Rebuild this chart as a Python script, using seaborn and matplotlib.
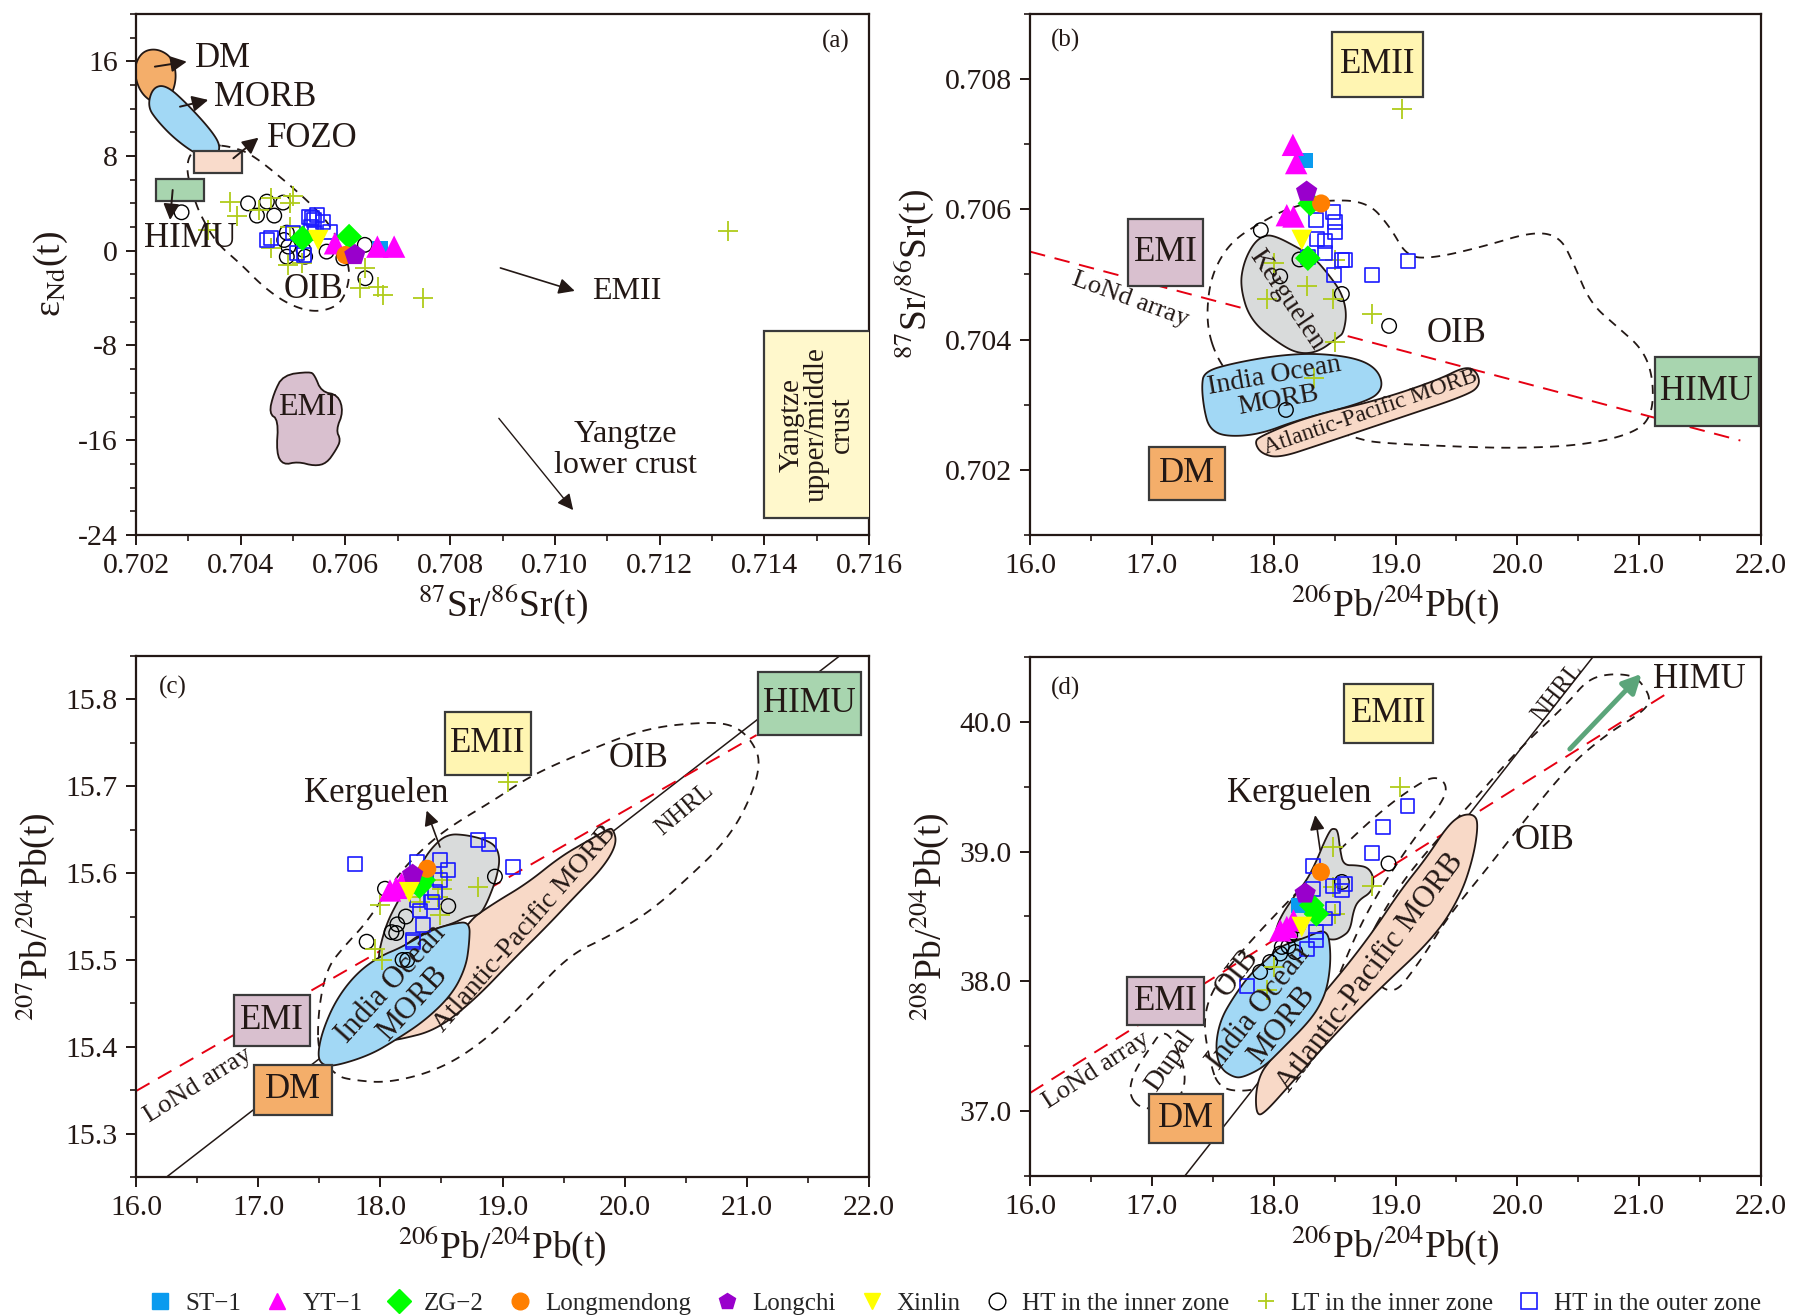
import numpy as np
import matplotlib
matplotlib.use('Agg')
import matplotlib.pyplot as plt
import seaborn as sns
from matplotlib.patches import Polygon, Rectangle
from matplotlib.lines import Line2D
from matplotlib.ticker import MultipleLocator, FormatStrFormatter

sns.set_theme(style='ticks')
plt.rcParams['font.family'] = ['Liberation Serif', 'DejaVu Serif']
plt.rcParams['mathtext.fontset'] = 'stix'
plt.rcParams['axes.unicode_minus'] = False

# ---------------- sample data ----------------
# (a) 87Sr/86Sr(t) vs eNd(t)
ST1_A_X = [0.70666]; ST1_A_Y = [0.2]
YT1_A_X = [0.70580, 0.70661, 0.70693]; YT1_A_Y = [0.63, 0.35, 0.35]
ZG2_A_X = [0.70518, 0.70607]; ZG2_A_Y = [1.06, 1.2]
LMD_A_X = [0.70600]; LMD_A_Y = [-0.36]
LC_A_X = [0.70618]; LC_A_Y = [-0.36]
XL_A_X = [0.70548]; XL_A_Y = [0.9]
HTI_A_X = [0.70414, 0.70450, 0.70481, 0.70431, 0.70464, 0.70287, 0.70488, 0.70483,
           0.70491, 0.70488, 0.70520, 0.70523, 0.70564, 0.70596, 0.70637, 0.70638]
HTI_A_Y = [4.0, 4.15, 4.07, 2.97, 2.97, 3.25, 1.53, 0.91, 0.35, -0.5, 0.07, -0.5,
           -0.07, -0.63, 0.5, -2.32]
LTI_A_X = [0.70380, 0.70393, 0.70435, 0.70457, 0.70500, 0.70494, 0.70338, 0.70457,
           0.70491, 0.70517, 0.70637, 0.70628, 0.70663, 0.70672, 0.70748, 0.70494, 0.71331]
LTI_A_Y = [4.15, 2.95, 3.46, 4.44, 4.6, 4.0, 1.76, 0.21, -1.2, -1.05, -1.46, -3.17,
           -3.03, -3.74, -4.0, 2.03, 1.67]
HTO_A_X = [0.70530, 0.70536, 0.70545, 0.70557, 0.70534, 0.70457, 0.70450, 0.70500,
           0.70541, 0.70570, 0.70507, 0.70520, 0.70540]
HTO_A_Y = [2.85, 2.74, 2.99, 2.43, 2.0, 1.05, 0.9, 1.5, 1.5, 1.55, -0.2, -0.34, 2.6]

# (b) 206Pb/204Pb vs 87Sr/86Sr
ST1_B_X = [18.258]; ST1_B_Y = [0.70675]
YT1_B_X = [18.157, 18.184, 18.107, 18.162]; YT1_B_Y = [0.70699, 0.70671, 0.70591, 0.70589]
ZG2_B_X = [18.30, 18.28]; ZG2_B_Y = [0.70609, 0.70525]
LMD_B_X = [18.389]; LMD_B_Y = [0.70609]
LC_B_X = [18.27]; LC_B_Y = [0.70627]
XL_B_X = [18.23]; XL_B_Y = [0.70553]
HTI_B_X = [17.894, 18.211, 18.559, 18.947, 18.053, 18.10]
HTI_B_Y = [0.70568, 0.70523, 0.70470, 0.70421, 0.70497, 0.70292]
LTI_B_X = [19.052, 17.998, 17.943, 18.272, 18.490, 18.504, 18.805, 18.504, 18.33]
LTI_B_Y = [0.70754, 0.70517, 0.70463, 0.70482, 0.70463, 0.70522, 0.70439, 0.70397, 0.70341]
HTO_B_X = [18.49, 18.348, 18.504, 18.504, 18.353, 18.422, 18.422, 18.28, 18.559,
           18.586, 18.496, 18.81, 19.10]
HTO_B_Y = [0.70596, 0.70584, 0.70580, 0.70565, 0.70554, 0.70552, 0.70533, 0.70527,
           0.70522, 0.70522, 0.70499, 0.70499, 0.70520]

# (c) 206Pb/204Pb vs 207Pb/204Pb
ST1_C_X = [18.30]; ST1_C_Y = [15.585]
YT1_C_X = [18.079, 18.174, 18.13]; YT1_C_Y = [15.580, 15.588, 15.583]
ZG2_C_X = [18.351, 18.32]; ZG2_C_Y = [15.592, 15.585]
LMD_C_X = [18.384]; LMD_C_Y = [15.605]
LC_C_X = [18.264]; LC_C_Y = [15.598]
XL_C_X = [18.237]; XL_C_Y = [15.578]
HTI_C_X = [18.038, 18.556, 18.209, 18.139, 18.092, 18.13, 17.888, 18.938, 18.182, 18.22]
HTI_C_Y = [15.582, 15.562, 15.550, 15.541, 15.532, 15.531, 15.521, 15.596, 15.500, 15.500]
LTI_C_X = [19.047, 17.997, 18.324, 18.502, 18.502, 18.801, 18.488, 17.956, 18.010, 18.47, 18.24]
LTI_C_Y = [15.705, 15.563, 15.567, 15.592, 15.582, 15.584, 15.552, 15.513, 15.500, 15.573, 15.572]
HTO_C_X = [17.792, 18.801, 18.891, 19.088, 18.297, 18.488, 18.556, 18.49, 18.447, 18.420,
           18.324, 18.351, 18.270, 18.297, 18.264]
HTO_C_Y = [15.611, 15.638, 15.633, 15.607, 15.613, 15.615, 15.604, 15.592, 15.578, 15.567,
           15.557, 15.540, 15.523, 15.569, 15.521]

# (d) 206Pb/204Pb vs 208Pb/204Pb
ST1_D_X = [18.203]; ST1_D_Y = [38.586]
YT1_D_X = [18.107, 18.162, 18.053]; YT1_D_Y = [38.419, 38.47, 38.393]
ZG2_D_X = [18.312, 18.35]; ZG2_D_Y = [38.586, 38.52]
LMD_D_X = [18.387]; LMD_D_Y = [38.843]
LC_D_X = [18.258]; LC_D_Y = [38.677]
XL_D_X = [18.23]; XL_D_Y = [38.419]
HTI_D_X = [18.559, 18.942, 18.203, 18.135, 18.066, 18.12, 18.053, 18.176, 17.970, 17.888]
HTI_D_Y = [38.766, 38.908, 38.432, 38.355, 38.265, 38.27, 38.214, 38.226, 38.149, 38.072]
LTI_D_X = [19.038, 18.490, 18.490, 18.805, 18.504, 17.998, 17.943]
LTI_D_Y = [39.499, 39.036, 38.727, 38.733, 38.522, 38.110, 37.931]
HTO_D_X = [19.098, 18.895, 18.805, 18.321, 18.586, 18.485, 18.56, 18.32, 18.49, 18.422,
           18.348, 18.348, 18.272, 17.784]
HTO_D_Y = [39.350, 39.191, 38.990, 38.887, 38.748, 38.733, 38.70, 38.715, 38.561, 38.484,
           38.380, 38.316, 38.252, 37.961]

# ---------------- reference fields (outlines) ----------------
DM_A_X = [0.70195, 0.70210, 0.70240, 0.70270, 0.70278, 0.70266, 0.70240, 0.70208]
DM_A_Y = [15.3, 16.8, 17.1, 16.3, 14.6, 12.9, 12.3, 13.3]
MORB_A_X = [0.70222, 0.70232, 0.70258, 0.70300, 0.70345, 0.70362, 0.70352, 0.70320, 0.70275, 0.70240]
MORB_A_Y = [12.2, 13.8, 14.0, 12.3, 10.1, 8.8, 7.9, 8.0, 9.4, 11.0]
EMI_A_X = [0.70481, 0.70532, 0.70541, 0.70554, 0.70586, 0.70596, 0.70582, 0.70591, 0.70582,
           0.70564, 0.70541, 0.70509, 0.70481, 0.70468, 0.70472, 0.70454, 0.70463]
EMI_A_Y = [-10.49, -10.21, -10.49, -11.90, -12.18, -13.59, -15.14, -15.98, -16.82, -17.95,
           -18.18, -17.81, -18.09, -17.10, -14.29, -13.73, -12.04]
OIB_A_X = [0.70348, 0.70380, 0.70418, 0.70475, 0.70533, 0.70571, 0.70602, 0.70609, 0.70596,
           0.70571, 0.70533, 0.70488, 0.70443, 0.70399, 0.70354, 0.70325, 0.70313, 0.70297,
           0.70300, 0.70316]
OIB_A_Y = [8.94, 8.80, 8.23, 6.26, 4.01, 2.18, -0.50, -2.19, -4.16, -4.95, -5.15, -4.45,
           -3.04, -1.07, 0.62, 2.87, 4.14, 6.53, 7.94, 8.65]
FOZO_A = (0.70311, 0.70403, 6.60, 8.43)
HIMU_A = (0.70239, 0.70330, 4.23, 6.06)
YUMC_A = (0.71400, 0.71620, -22.6, -6.8)

KER_B_X = [17.929, 18.025, 18.189, 18.326, 18.463, 18.559, 18.60, 18.572, 18.531, 18.368,
           18.204, 18.041, 17.806, 17.724, 17.751, 17.833]
KER_B_Y = [0.70561, 0.70558, 0.70542, 0.70527, 0.70497, 0.70471, 0.70440, 0.70410, 0.70404,
           0.70381, 0.70378, 0.70394, 0.70430, 0.70481, 0.70517, 0.70548]
IOM_B_X = [17.429, 17.673, 18.041, 18.368, 18.695, 18.858, 18.899, 18.777, 18.204, 17.878,
           17.592, 17.47, 17.429, 17.408]
IOM_B_Y = [0.70351, 0.70364, 0.70376, 0.70379, 0.70371, 0.70353, 0.70325, 0.70305, 0.70277,
           0.70254, 0.70251, 0.70264, 0.70292, 0.70328]
APM_B_X = [17.878, 18.286, 18.858, 19.348, 19.573, 19.667, 19.695, 19.593, 19.021, 18.368,
           18.041, 17.898, 17.845]
APM_B_Y = [0.70251, 0.70282, 0.70307, 0.70338, 0.70359, 0.70351, 0.70330, 0.70315, 0.70279,
           0.70238, 0.70218, 0.70225, 0.70241]
OIB_B_X = [17.533, 17.451, 17.464, 17.533, 17.669, 17.888, 18.107, 18.381, 18.764, 18.956,
           19.093, 19.311, 19.722, 20.132, 20.351, 20.461, 20.598, 20.817, 21.035, 21.117,
           21.104, 20.953, 20.543, 19.996, 19.448, 18.901, 18.709, 18.2, 17.7]
OIB_B_Y = [0.70371, 0.70420, 0.70476, 0.70517, 0.70553, 0.70579, 0.70601, 0.70614, 0.70613,
           0.70573, 0.70527, 0.70525, 0.70543, 0.70566, 0.70558, 0.70517, 0.70456, 0.70420,
           0.70384, 0.70338, 0.70282, 0.70256, 0.70238, 0.70233, 0.70236, 0.70241, 0.70246,
           0.7028, 0.7033]
EMI_B = (16.807, 17.423, 0.70482, 0.70585)
EMII_B = (18.477, 19.224, 0.70772, 0.70873)
DM_B = (16.98, 17.60, 0.70154, 0.70235)
HIMU_B = (21.13, 21.98, 0.70267, 0.70374)
LOND_B_X = [16.0, 21.83]; LOND_B_Y = [0.70535, 0.70245]

KER_C_X = [18.406, 18.542, 18.706, 18.870, 18.952, 18.979, 18.952, 18.924, 18.870, 18.815,
           18.706, 18.597, 18.406, 18.297, 18.188, 18.038, 17.983, 17.997, 18.052, 18.133,
           18.229, 18.324]
KER_C_Y = [15.627, 15.645, 15.644, 15.638, 15.630, 15.615, 15.596, 15.584, 15.565, 15.552,
           15.550, 15.542, 15.534, 15.527, 15.515, 15.504, 15.498, 15.515, 15.542, 15.565,
           15.588, 15.607]
IOM_C_X = [18.733, 18.728, 18.700, 18.591, 18.373, 18.128, 17.909, 17.610, 17.514, 17.487,
           17.528, 17.637, 17.800, 17.991, 18.182, 18.406, 18.597]
IOM_C_Y = [15.544, 15.519, 15.492, 15.461, 15.431, 15.408, 15.390, 15.377, 15.380, 15.392,
           15.419, 15.454, 15.484, 15.504, 15.515, 15.534, 15.542]
APM_C_X = [19.906, 19.937, 19.827, 19.592, 19.358, 19.084, 18.770, 18.457, 18.143, 18.085,
           18.30, 18.691, 18.926, 19.200, 19.474, 19.709, 19.867]
APM_C_Y = [15.651, 15.634, 15.607, 15.573, 15.538, 15.500, 15.454, 15.419, 15.408, 15.408,
           15.442, 15.542, 15.565, 15.588, 15.619, 15.638, 15.651]
OIB_C_X = [17.49, 17.49, 17.56, 17.70, 17.90, 18.15, 18.40, 18.61, 18.93, 19.24, 19.71,
           20.18, 20.65, 20.89, 21.04, 21.12, 21.00, 20.81, 20.53, 20.22, 19.87, 19.55,
           19.22, 18.89, 18.51, 18.07, 17.75, 17.64]
OIB_C_Y = [15.39, 15.44, 15.49, 15.515, 15.545, 15.60, 15.635, 15.657, 15.684, 15.713, 15.742,
           15.767, 15.774, 15.771, 15.753, 15.726, 15.676, 15.634, 15.596, 15.557, 15.527,
           15.506, 15.457, 15.411, 15.375, 15.358, 15.362, 15.367]
EMI_C = (16.805, 17.424, 15.401, 15.460)
DM_C = (16.968, 17.604, 15.322, 15.379)
EMII_C = (18.527, 19.232, 15.713, 15.785)
HIMU_C = (21.088, 21.934, 15.759, 15.832)
NHRL_C_X = [16.25, 21.85]; NHRL_C_Y = [15.25, 15.86]
LOND_C_X = [16.0, 21.08]; LOND_C_Y = [15.349, 15.759]

KER_D_X = [18.490, 18.526, 18.545, 18.572, 18.682, 18.778, 18.824, 18.805, 18.696, 18.655,
           18.627, 18.559, 18.490, 18.381, 18.135, 17.998, 18.039, 18.162, 18.272, 18.354,
           18.409, 18.463]
KER_D_Y = [39.178, 39.165, 39.011, 38.895, 38.895, 38.877, 38.792, 38.689, 38.625, 38.548,
           38.393, 38.342, 38.316, 38.342, 38.316, 38.316, 38.471, 38.650, 38.779, 38.934,
           39.062, 39.165]
IOM_D_X = [18.44, 18.47, 18.45, 18.40, 18.30, 18.08, 17.92, 17.75, 17.67, 17.56, 17.52,
           17.56, 17.67, 17.81, 17.97, 18.05, 18.27]
IOM_D_Y = [38.41, 38.21, 38.00, 37.85, 37.70, 37.49, 37.34, 37.26, 37.26, 37.33, 37.49,
           37.70, 37.88, 38.06, 38.19, 38.27, 38.34]
APM_D_X = [17.86, 17.85, 17.89, 17.98, 18.20, 18.55, 18.82, 19.04, 19.26, 19.42, 19.53,
           19.64, 19.68, 19.64, 19.53, 19.31, 18.82, 18.46, 18.14, 17.92]
APM_D_Y = [36.97, 37.13, 37.29, 37.40, 37.68, 38.06, 38.39, 38.70, 38.96, 39.19, 39.28,
           39.29, 39.22, 38.96, 38.65, 38.33, 37.90, 37.55, 37.21, 36.98]
OIB1_D_X = [17.55, 17.47, 17.42, 17.50, 17.75, 18.10, 18.50, 18.90, 19.20, 19.33, 19.42,
            19.40, 19.15, 18.90, 18.72, 18.58, 18.45, 18.25, 18.00, 17.80]
OIB1_D_Y = [37.17, 37.40, 37.70, 37.95, 38.25, 38.60, 38.98, 39.33, 39.53, 39.58, 39.52,
            39.40, 39.10, 38.75, 38.45, 38.15, 37.85, 37.45, 37.22, 37.15]
OIB2_D_X = [18.70, 19.00, 19.30, 19.60, 20.00, 20.41, 20.57, 20.74, 20.94, 21.02, 21.10,
            21.02, 20.74, 20.41, 20.00, 19.76, 19.43, 19.20, 18.95]
OIB2_D_Y = [38.20, 38.70, 39.05, 39.35, 39.78, 40.14, 40.32, 40.37, 40.36, 40.30, 40.17,
            40.07, 39.91, 39.65, 39.17, 38.88, 38.50, 38.15, 37.85]
DUPAL_D_X = [16.90, 16.81, 16.85, 16.98, 17.08, 17.18, 17.28, 17.25, 17.10]
DUPAL_D_Y = [37.02, 37.13, 37.30, 37.48, 37.62, 37.55, 37.30, 37.12, 37.02]
EMI_D = (16.794, 17.429, 37.660, 38.033)
DM_D = (16.98, 17.58, 36.758, 37.134)
EMII_D = (18.58, 19.31, 39.84, 40.29)
NHRL_D_X = [17.27, 20.62]; NHRL_D_Y = [36.50, 40.50]
LOND_D_X = [16.0, 21.23]; LOND_D_Y = [37.14, 40.22]

# ---------------- styles ----------------
INK = '#231815'
C_DM, C_MORB, C_FOZO, C_HIMU = '#F4AE6A', '#A2D8F5', '#F9DBCB', '#A8D5AF'
C_EMI, C_EMII, C_KER, C_APM, C_YUMC = '#D9C0CF', '#FFF5B2', '#D9DBDB', '#F8D9C7', '#FFF8CC'

NAMES = ['ST\u22121', 'YT\u22121', 'ZG\u22122', 'Longmendong', 'Longchi', 'Xinlin',
         'HT in the inner zone', 'LT in the inner zone', 'HT in the outer zone']
STYLE = {
    'ST\u22121': dict(marker='s', color='#0A9BEF', s=120, edgecolor='none'),
    'YT\u22121': dict(marker='^', color='#FF00FF', s=260, edgecolor='none'),
    'ZG\u22122': dict(marker='D', color='#00FF00', s=170, edgecolor='none'),
    'Longmendong': dict(marker='o', color='#FF7F00', s=170, edgecolor='none'),
    'Longchi': dict(marker='p', color='#9900CC', s=260, edgecolor='none'),
    'Xinlin': dict(marker='v', color='#FFFF00', s=220, edgecolor='none'),
    'HT in the inner zone': dict(marker='o', facecolor='none', edgecolor='black', s=110, linewidth=1.0),
    'LT in the inner zone': dict(marker='+', color='#B0CC1A', s=200, linewidth=1.3),
    'HT in the outer zone': dict(marker='s', facecolor='none', edgecolor='#1A1AFF', s=100, linewidth=1.2),
}
DRAW_ORDER = [6, 7, 8, 0, 2, 1, 3, 4, 5]


def smooth(xs, ys, n=4):
    pts = np.column_stack([xs, ys]).astype(float)
    for _ in range(n):
        nxt = np.roll(pts, -1, axis=0)
        new = np.empty((2 * len(pts), 2))
        new[0::2] = 0.75 * pts + 0.25 * nxt
        new[1::2] = 0.25 * pts + 0.75 * nxt
        pts = new
    return pts


def field(ax, xs, ys, fc, z=2, n=4):
    ax.add_patch(Polygon(smooth(xs, ys, n), closed=True, fc=fc, ec=INK, lw=1.3, zorder=z))


def dashed(ax, xs, ys, n=4):
    ax.add_patch(Polygon(smooth(xs, ys, n), closed=True, fill=False, ec=INK, lw=1.3,
                         ls=(0, (5, 4)), zorder=1))


def box(ax, b, fc, label, fs=25, **kw):
    x0, x1, y0, y1 = b
    ax.add_patch(Rectangle((x0, y0), x1 - x0, y1 - y0, fc=fc, ec='#3a3a3a', lw=1.6, zorder=3))
    if label:
        ax.text((x0 + x1) / 2, (y0 + y1) / 2, label, ha='center', va='center', fontsize=fs,
                color=INK, zorder=7, **kw)


def arrow(ax, start, end, color=INK, lw=1.4, ms=24):
    ax.annotate('', xy=end, xytext=start, zorder=7,
                arrowprops=dict(arrowstyle='-|>', color=color, lw=lw, mutation_scale=ms,
                                shrinkA=0, shrinkB=0))


def label(ax, x, y, s, fs=24, rot=0, ha='center'):
    ax.text(x, y, s, fontsize=fs, rotation=rot, ha=ha, va='center', color=INK,
            rotation_mode='anchor', zorder=7)


def samples(ax, groups):
    for i in DRAW_ORDER:
        xs, ys = groups[i]
        z = 4 if i >= 6 else 5
        sns.scatterplot(x=xs, y=ys, ax=ax, legend=False, zorder=z, **STYLE[NAMES[i]])


def setup(ax, xlim, ylim, xt, yt, xfmt, yfmt, xlabel, ylabel, tag, tagpos):
    ax.set_xlim(*xlim)
    ax.set_ylim(*ylim)
    ax.xaxis.set_major_locator(MultipleLocator(xt[0]))
    ax.xaxis.set_minor_locator(MultipleLocator(xt[1]))
    ax.yaxis.set_major_locator(MultipleLocator(yt[0]))
    ax.yaxis.set_minor_locator(MultipleLocator(yt[1]))
    ax.xaxis.set_major_formatter(FormatStrFormatter(xfmt))
    ax.yaxis.set_major_formatter(FormatStrFormatter(yfmt))
    ax.tick_params(which='major', direction='out', length=7, width=1.4, labelsize=21.5,
                   colors=INK, pad=6)
    ax.tick_params(which='minor', direction='out', length=4, width=1.2, colors=INK)
    for sp in ax.spines.values():
        sp.set_linewidth(1.6)
        sp.set_color(INK)
    ax.set_xlabel(xlabel, fontsize=27, color=INK, labelpad=2)
    ax.set_ylabel(ylabel, fontsize=27, color=INK, labelpad=6)
    ax.text(tagpos[0], tagpos[1], tag, transform=ax.transAxes, fontsize=18, ha='center',
            va='center', color=INK, zorder=8)


fig = plt.figure(figsize=(18.04, 13.16), dpi=100)
ax_a = fig.add_axes([0.0754, 0.5935, 0.4063, 0.3959])
ax_b = fig.add_axes([0.5710, 0.5935, 0.4052, 0.3959])
ax_c = fig.add_axes([0.0754, 0.1056, 0.4063, 0.3959])
ax_d = fig.add_axes([0.5710, 0.1064, 0.4052, 0.3944])

# ---------------- (a) ----------------
ax = ax_a
dashed(ax, OIB_A_X, OIB_A_Y)
field(ax, DM_A_X, DM_A_Y, C_DM)
field(ax, MORB_A_X, MORB_A_Y, C_MORB)
field(ax, EMI_A_X, EMI_A_Y, C_EMI, n=2)
box(ax, FOZO_A, C_FOZO, None)
box(ax, HIMU_A, C_HIMU, None)
box(ax, YUMC_A, C_YUMC, None)
ax.text(0.71500, -14.7, 'Yangtze\nupper/middle\ncrust', rotation=90, ha='center', va='center',
        fontsize=21, linespacing=0.95, color=INK, zorder=7)
arrow(ax, (0.70236, 15.55), (0.70297, 15.97))
arrow(ax, (0.70284, 12.17), (0.70338, 12.74))
arrow(ax, (0.70386, 7.81), (0.70434, 9.55))
arrow(ax, (0.70270, 5.13), (0.70265, 2.6))
arrow(ax, (0.70896, -1.45), (0.71038, -3.39), lw=1.2)
arrow(ax, (0.70893, -14.15), (0.71035, -21.9), lw=1.0)
label(ax, 0.70313, 16.26, 'DM', fs=25, ha='left')
label(ax, 0.70349, 12.96, 'MORB', fs=25, ha='left')
label(ax, 0.70450, 9.5, 'FOZO', fs=25, ha='left')
label(ax, 0.70303, 1.05, 'HIMU', fs=25)
label(ax, 0.70539, -3.31, 'OIB', fs=25)
label(ax, 0.71138, -3.48, 'EMII', fs=23)
label(ax, 0.70527, -13.2, 'EMI', fs=23)
ax.text(0.71135, -16.82, 'Yangtze\nlower crust', ha='center', va='center', fontsize=23,
        linespacing=1.1, color=INK, zorder=7)
samples(ax, [(ST1_A_X, ST1_A_Y), (YT1_A_X, YT1_A_Y), (ZG2_A_X, ZG2_A_Y), (LMD_A_X, LMD_A_Y),
             (LC_A_X, LC_A_Y), (XL_A_X, XL_A_Y), (HTI_A_X, HTI_A_Y), (LTI_A_X, LTI_A_Y),
             (HTO_A_X, HTO_A_Y)])
setup(ax, (0.702, 0.716), (-24, 20), (0.002, 0.001), (8, 2), '%.3f', '%d',
      r'$^{87}$Sr/$^{86}$Sr(t)', '\u03b5$_{\\rm Nd}$(t)', '(a)', (0.954, 0.948))

# ---------------- (b) ----------------
ax = ax_b
dashed(ax, OIB_B_X, OIB_B_Y)
ax.plot(LOND_B_X, LOND_B_Y, color='#E60012', lw=1.4, ls=(0, (8, 5)), zorder=1.5)
field(ax, IOM_B_X, IOM_B_Y, C_MORB, z=2)
field(ax, APM_B_X, APM_B_Y, C_APM, z=2.1)
field(ax, KER_B_X, KER_B_Y, C_KER, z=2.2)
box(ax, EMI_B, C_EMI, 'EMI')
box(ax, EMII_B, C_EMII, 'EMII')
box(ax, DM_B, C_DM, 'DM')
box(ax, HIMU_B, C_HIMU, 'HIMU')
label(ax, 19.50, 0.70410, 'OIB', fs=25)
label(ax, 16.82, 0.70461, 'LoNd array', fs=19, rot=-20)
label(ax, 18.107, 0.70461, 'Kerguelen', fs=20, rot=-56)
ax.text(18.02, 0.70325, 'India Ocean\nMORB', ha='center', va='center', fontsize=20,
        rotation=10, rotation_mode='anchor', linespacing=1.0, color=INK, zorder=7)
label(ax, 18.797, 0.70289, 'Atlantic-Pacific MORB', fs=17, rot=19)
samples(ax, [(ST1_B_X, ST1_B_Y), (YT1_B_X, YT1_B_Y), (ZG2_B_X, ZG2_B_Y), (LMD_B_X, LMD_B_Y),
             (LC_B_X, LC_B_Y), (XL_B_X, XL_B_Y), (HTI_B_X, HTI_B_Y), (LTI_B_X, LTI_B_Y),
             (HTO_B_X, HTO_B_Y)])
setup(ax, (16, 22), (0.701, 0.709), (1, 0.5), (0.002, 0.001), '%.1f', '%.3f',
      r'$^{206}$Pb/$^{204}$Pb(t)', r'$^{87}$Sr/$^{86}$Sr(t)', '(b)', (0.048, 0.950))

# ---------------- (c) ----------------
ax = ax_c
dashed(ax, OIB_C_X, OIB_C_Y)
ax.plot(NHRL_C_X, NHRL_C_Y, color=INK, lw=1.1, zorder=1.5)
ax.plot(LOND_C_X, LOND_C_Y, color='#E60012', lw=1.4, ls=(0, (8, 5)), zorder=1.5)
field(ax, APM_C_X, APM_C_Y, C_APM, z=2)
field(ax, KER_C_X, KER_C_Y, C_KER, z=2.1)
field(ax, IOM_C_X, IOM_C_Y, C_MORB, z=2.2)
box(ax, EMI_C, C_EMI, 'EMI')
box(ax, DM_C, C_DM, 'DM')
box(ax, EMII_C, C_EMII, 'EMII')
box(ax, HIMU_C, C_HIMU, 'HIMU')
arrow(ax, (18.488, 15.630), (18.379, 15.672), lw=1.2, ms=22)
label(ax, 17.967, 15.692, 'Kerguelen', fs=25)
label(ax, 20.113, 15.732, 'OIB', fs=25)
label(ax, 20.49, 15.673, 'NHRL', fs=18, rot=40)
label(ax, 16.505, 15.356, 'LoNd array', fs=19, rot=32)
ax.text(18.18, 15.461, 'India Ocean\nMORB', ha='center', va='center', fontsize=22,
        rotation=48, rotation_mode='anchor', linespacing=1.0, color=INK, zorder=7)
label(ax, 19.18, 15.536, 'Atlantic-Pacific MORB', fs=20, rot=49)
samples(ax, [(ST1_C_X, ST1_C_Y), (YT1_C_X, YT1_C_Y), (ZG2_C_X, ZG2_C_Y), (LMD_C_X, LMD_C_Y),
             (LC_C_X, LC_C_Y), (XL_C_X, XL_C_Y), (HTI_C_X, HTI_C_Y), (LTI_C_X, LTI_C_Y),
             (HTO_C_X, HTO_C_Y)])
setup(ax, (16, 22), (15.25, 15.85), (1, 0.5), (0.1, 0.05), '%.1f', '%.1f',
      r'$^{206}$Pb/$^{204}$Pb(t)', r'$^{207}$Pb/$^{204}$Pb(t)', '(c)', (0.050, 0.939))

# ---------------- (d) ----------------
ax = ax_d
dashed(ax, OIB1_D_X, OIB1_D_Y)
dashed(ax, OIB2_D_X, OIB2_D_Y)
dashed(ax, DUPAL_D_X, DUPAL_D_Y, n=3)
ax.plot(NHRL_D_X, NHRL_D_Y, color=INK, lw=1.1, zorder=1.5)
ax.plot(LOND_D_X, LOND_D_Y, color='#E60012', lw=1.4, ls=(0, (8, 5)), zorder=1.5)
field(ax, KER_D_X, KER_D_Y, C_KER, z=2)
field(ax, APM_D_X, APM_D_Y, C_APM, z=2.1)
field(ax, IOM_D_X, IOM_D_Y, C_MORB, z=2.2)
box(ax, EMI_D, C_EMI, 'EMI')
box(ax, DM_D, C_DM, 'DM')
box(ax, EMII_D, C_EMII, 'EMII')
arrow(ax, (18.381, 39.011), (18.340, 39.281), lw=1.2, ms=22)
arrow(ax, (20.43, 39.79), (21.02, 40.37), color='#5BA57A', lw=3.5, ms=28)
label(ax, 18.205, 39.448, 'Kerguelen', fs=25)
label(ax, 20.227, 39.088, 'OIB', fs=25)
label(ax, 21.49, 40.33, 'HIMU', fs=25)
label(ax, 17.70, 38.07, 'OIB', fs=22, rot=52)
label(ax, 20.33, 40.23, 'NHRL', fs=18, rot=52)
label(ax, 16.547, 37.31, 'LoNd array', fs=19, rot=33)
label(ax, 17.149, 37.39, 'Dupal', fs=20, rot=55)
ax.text(17.97, 37.73, 'India Ocean\nMORB', ha='center', va='center', fontsize=22,
        rotation=52, rotation_mode='anchor', linespacing=1.0, color=INK, zorder=7)
label(ax, 18.79, 38.07, 'Atlantic-Pacific MORB', fs=22, rot=53)
samples(ax, [(ST1_D_X, ST1_D_Y), (YT1_D_X, YT1_D_Y), (ZG2_D_X, ZG2_D_Y), (LMD_D_X, LMD_D_Y),
             (LC_D_X, LC_D_Y), (XL_D_X, XL_D_Y), (HTI_D_X, HTI_D_Y), (LTI_D_X, LTI_D_Y),
             (HTO_D_X, HTO_D_Y)])
setup(ax, (16, 22), (36.5, 40.5), (1, 0.5), (1, 0.5), '%.1f', '%.1f',
      r'$^{206}$Pb/$^{204}$Pb(t)', r'$^{208}$Pb/$^{204}$Pb(t)', '(d)', (0.048, 0.940))

# ---------------- legend ----------------
handles = []
for n in NAMES:
    st = STYLE[n]
    fc = st.get('facecolor', st.get('color'))
    ec = st.get('color') if st.get('edgecolor') in (None, 'none') else st['edgecolor']
    handles.append(Line2D([], [], ls='none', marker=st['marker'], markersize=12,
                          markerfacecolor=fc, markeredgecolor=ec,
                          markeredgewidth=st.get('linewidth', 1.0)))
fig.legend(handles, NAMES, loc='lower center', bbox_to_anchor=(0.529, -0.016), ncol=9,
           frameon=False, fontsize=18, handletextpad=0.5, columnspacing=0.95, handlelength=1.0)

fig.savefig('out.png', dpi=100)
